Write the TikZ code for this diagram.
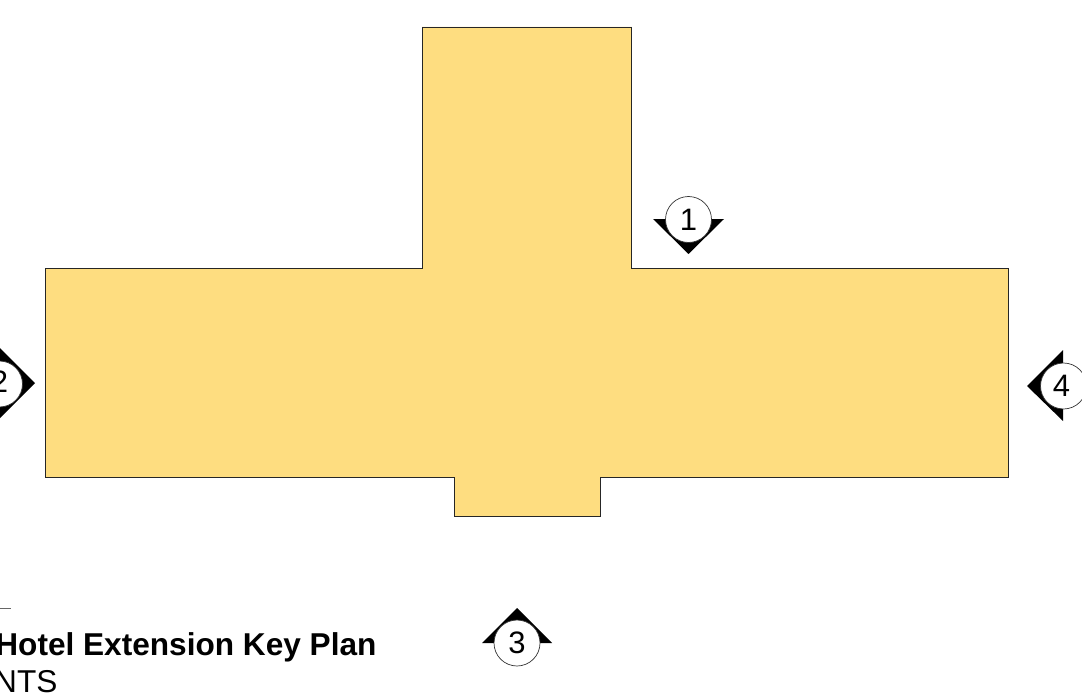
\documentclass[tikz,border=0pt]{standalone}
\usepackage{fontspec}
\setmainfont{Liberation Sans}
\definecolor{planfill}{HTML}{FEDD80}
\tikzset{
    markcircle/.style={circle,draw=black!80,line width=0.7pt,fill=white,inner sep=0pt,minimum size=46pt,font=\fontsize{31}{31}\selectfont},
    keytext/.style={anchor=base west,inner sep=0pt,font=\fontsize{31.6}{32}\selectfont},
}
\begin{document}
\begin{tikzpicture}[x=1pt,y=-1pt]
    \useasboundingbox (0,0) rectangle (1082,698);
    % building outline
    \draw[fill=planfill,draw=black!85,line width=0.8pt] (422,27)--(631.8,27)--(631.8,268)--(1008.8,268)--(1008.8,477)--(600.8,477)--(600.8,516.8)--(454,516.8)--(454,477)--(45,477)--(45,268)--(422,268)--cycle;
    % section markers
    \fill (653,219)--(724,219)--(688.5,254)--cycle;
    \node[markcircle] (M1) at (688.5,219.5) {\raisebox{-2pt}{1}};
    \fill (0,348)--(35,383)--(0,418)--(-35,383)--cycle;
    \node[markcircle] (M2) at (-0.5,384) {\raisebox{4pt}{2}};
    \fill (517,608)--(552,643)--(482,643)--cycle;
    \node[markcircle] (M3) at (517,643) {\raisebox{-2.5pt}{3}};
    \fill (1063,350)--(1063,421)--(1027,386)--cycle;
    \node[markcircle] (M4) at (1063.5,386) {\kern-4pt 4};
    % title
    \draw[black!60,line width=0.8pt] (0,608)--(11,608);
    \node[keytext] (T1) at (-4.8,655) {\textbf{Hotel Extension Key Plan}};
    \node[keytext] (T2) at (-6,692.5) {NTS};
\end{tikzpicture}
\end{document}
